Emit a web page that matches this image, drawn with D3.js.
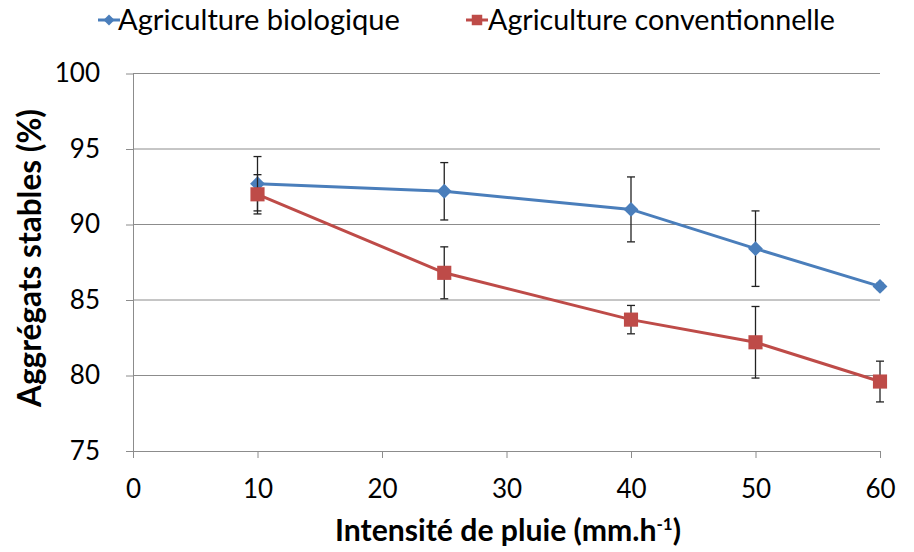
<!DOCTYPE html>
<html><head><meta charset="utf-8">
<script src="https://cdn.jsdelivr.net/npm/d3@7"></script>
<style>body{margin:0;background:#fff}svg{display:block}text{font-family:Lato,"Open Sans",sans-serif}</style>
</head><body><svg id="c" width="914" height="552"></svg>
<script>
const intensities = [10, 25, 40, 50, 60];
const bioValues = [92.7, 92.2, 91.0, 88.4, 85.9];
const bioErrors = [1.8, 1.9, 2.15, 2.5, 0.2];
const convValues = [92.0, 86.8, 83.7, 82.2, 79.6];
const convErrors = [1.3, 1.72, 0.94, 2.37, 1.35];
const xTicks = [0, 10, 20, 30, 40, 50, 60];
const yTicks = [75, 80, 85, 90, 95, 100];
const seriesNames = ["Agriculture biologique", "Agriculture conventionnelle"];
const seriesColors = ["#4a7ebb", "#be4b48"];

const svg = d3.select("#c");
const m = {l:133, r:880, t:73.5, b:451};
const x = d3.scaleLinear().domain([0,60]).range([m.l, m.r]);
const y = d3.scaleLinear().domain([75,100]).range([m.b, m.t]);

function fit(sel, target, base) {
  const w = sel.node().getComputedTextLength();
  sel.attr("font-size", base * target / w);
}

svg.append("g").selectAll("line").data(yTicks.filter(d=>d>75)).join("line")
  .attr("x1", m.l).attr("x2", m.r).attr("y1", d=>y(d)).attr("y2", d=>y(d))
  .attr("stroke", "#8c8c8c").attr("stroke-width", 1);

const yAxis = svg.append("g").attr("transform", `translate(${m.l},0)`)
  .call(d3.axisLeft(y).tickValues(yTicks).tickSize(7).tickPadding(26).tickSizeOuter(0));
const xAxis = svg.append("g").attr("transform", `translate(0,${m.b})`)
  .call(d3.axisBottom(x).tickValues(xTicks).tickSize(7).tickPadding(22).tickSizeOuter(0));
[yAxis, xAxis].forEach(a=>{
  a.select(".domain").attr("stroke", "#8c8c8c");
  a.selectAll(".tick line").attr("stroke", "#8c8c8c");
  a.selectAll("text").attr("font-size", 26).attr("fill", "#000").attr("font-family", "Lato, sans-serif");
});

const series = [
  {vals: bioValues, errs: bioErrors, color: seriesColors[0], shape: "diamond"},
  {vals: convValues, errs: convErrors, color: seriesColors[1], shape: "square"}
];

const line = d3.line().x(d=>x(d[0])).y(d=>y(d[1]));
series.forEach(s=>{
  const pts = intensities.map((v,i)=>[v, s.vals[i], s.errs[i]]);
  const eg = svg.append("g").attr("stroke", "#222").attr("stroke-width", 1.3);
  pts.forEach(p=>{
    eg.append("line").attr("x1", x(p[0])).attr("x2", x(p[0])).attr("y1", y(p[1]-p[2])).attr("y2", y(p[1]+p[2]));
    [p[1]-p[2], p[1]+p[2]].forEach(v=>{
      eg.append("line").attr("x1", x(p[0])-4).attr("x2", x(p[0])+4).attr("y1", y(v)).attr("y2", y(v));
    });
  });
  svg.append("path").datum(pts).attr("d", line).attr("fill", "none")
    .attr("stroke", s.color).attr("stroke-width", 3);
  svg.append("g").selectAll("path").data(pts).join("path")
    .attr("d", s.shape === "diamond" ? d3.symbol().type(d3.symbolSquare).size(110)() : d3.symbol().type(d3.symbolSquare).size(200)())
    .attr("transform", d=>`translate(${x(d[0])},${y(d[1])})` + (s.shape==="diamond" ? " rotate(45)" : ""))
    .attr("fill", s.color);
});

const legend = [{x:98, tx:118, w:282}, {x:466, tx:488, w:347}];
legend.forEach((L,i)=>{
  const g = svg.append("g");
  g.append("line").attr("x1", L.x).attr("x2", L.x+22).attr("y1", 20).attr("y2", 20)
    .attr("stroke", seriesColors[i]).attr("stroke-width", 3);
  g.append("path").attr("d", i===0 ? d3.symbol().type(d3.symbolSquare).size(60)() : d3.symbol().type(d3.symbolSquare).size(110)())
    .attr("transform", `translate(${L.x+11},20)` + (i===0 ? " rotate(45)" : "")).attr("fill", seriesColors[i]);
  const t = g.append("text").attr("x", L.tx).attr("y", 30).attr("font-size", 26).text(seriesNames[i]);
  fit(t, L.w, 26);
});

const yt = svg.append("text").attr("transform", "translate(41,258) rotate(-90)").attr("text-anchor", "middle")
  .attr("font-size", 22).attr("font-weight", "bold").text("Aggrégats stables (%)");
fit(yt, 298, 22);
const xt = svg.append("text").attr("x", 508).attr("y", 541).attr("text-anchor", "middle")
  .attr("font-size", 27).attr("font-weight", "bold");
xt.append("tspan").text("Intensité de pluie (mm.h");
xt.append("tspan").attr("font-size", 17).attr("dy", -11).text("-1");
xt.append("tspan").attr("dy", 11).text(")");
fit(xt, 348, 27);
</script></body></html>
